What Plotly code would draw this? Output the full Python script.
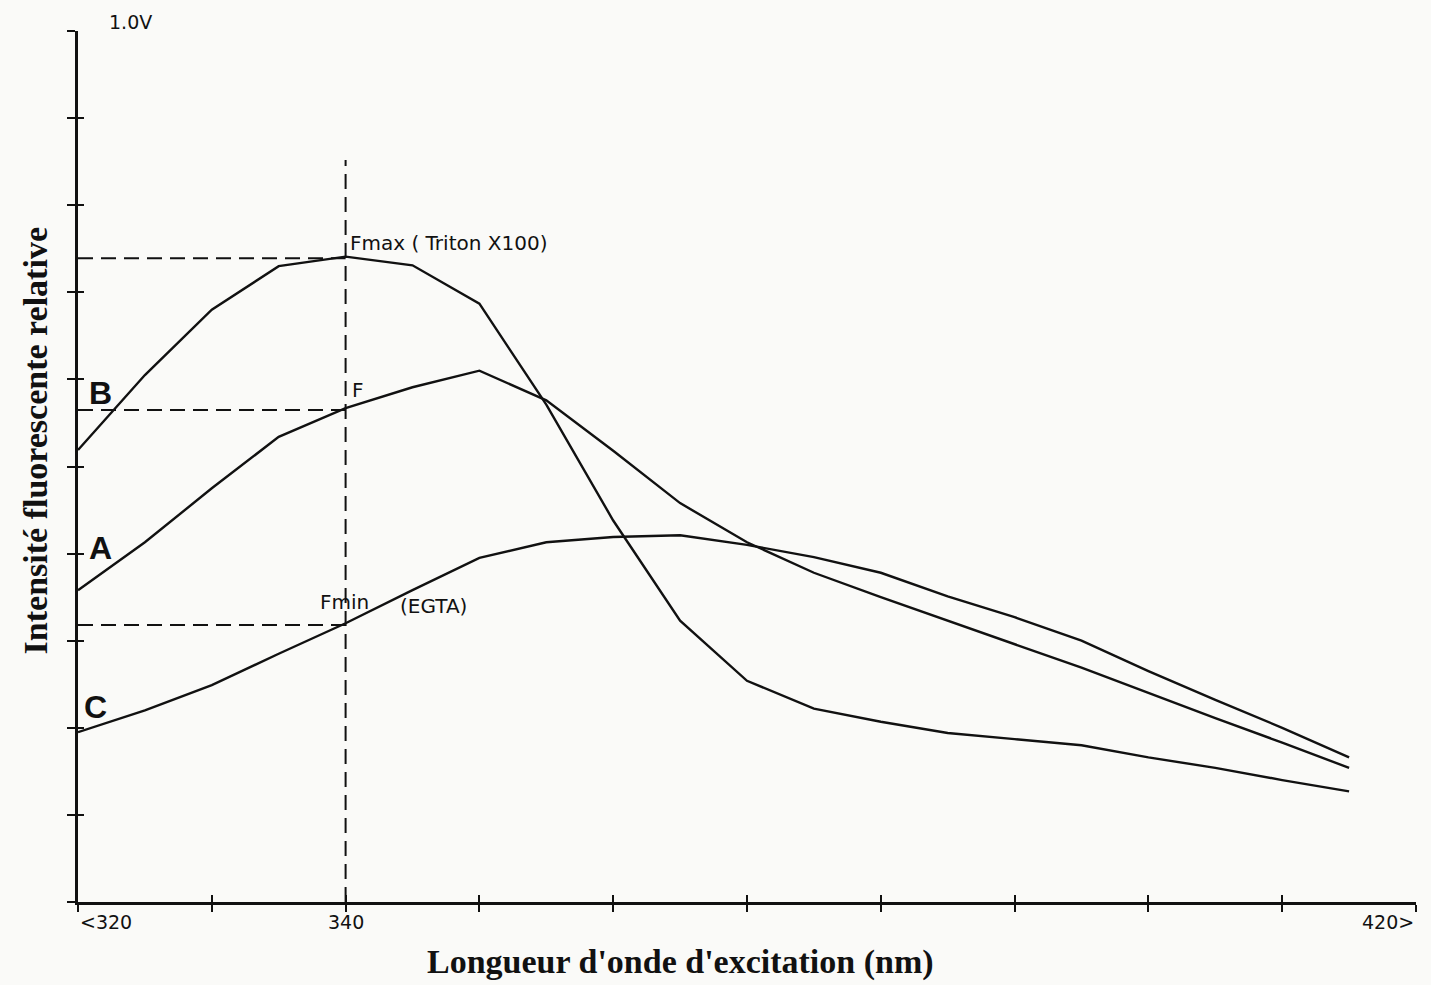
import plotly.graph_objects as go

# ---- data ----
wavelength = [320, 325, 330, 335, 340, 345, 350, 355, 360, 365,
              370, 375, 380, 385, 390, 395, 400, 405, 410, 415]
curve_B = [0.519, 0.605, 0.680, 0.730, 0.741, 0.731, 0.687, 0.571, 0.438, 0.323,
           0.254, 0.222, 0.207, 0.194, 0.187, 0.180, 0.166, 0.154, 0.140, 0.127]
curve_A = [0.358, 0.413, 0.475, 0.534, 0.567, 0.591, 0.610, 0.576, 0.518, 0.458,
           0.413, 0.378, 0.350, 0.323, 0.296, 0.269, 0.240, 0.211, 0.183, 0.154]
curve_C = [0.195, 0.220, 0.249, 0.285, 0.320, 0.358, 0.395, 0.413, 0.419, 0.421,
           0.410, 0.396, 0.378, 0.351, 0.327, 0.300, 0.265, 0.232, 0.200, 0.166]

ref_wavelength = 340
level_names = ["Fmax", "F", "Fmin"]
level_values = [0.739, 0.565, 0.318]
vline_top = 0.852

x_ticks = [320, 330, 340, 350, 360, 370, 380, 390, 400, 410, 420]
y_ticks = [0.0, 0.1, 0.2, 0.3, 0.4, 0.5, 0.6, 0.7, 0.8, 0.9, 1.0]
x_label_vals = [320, 340, 420]
x_label_text = ["<320", "340", "420>"]
y_unit_label = "1.0V"

x_title = "Longueur d'onde d'excitation (nm)"
y_title = "Intensité fluorescente relative"

INK = "#111111"
PAPER = "#fafaf8"

fig = go.Figure()

for ys in (curve_B, curve_A, curve_C):
    fig.add_trace(go.Scatter(x=wavelength, y=ys, mode="lines",
                             line=dict(color=INK, width=2.4), hoverinfo="skip",
                             showlegend=False))

dash = "15px,8px"
for v in level_values:
    fig.add_trace(go.Scatter(x=[x_ticks[0], ref_wavelength], y=[v, v], mode="lines",
                             line=dict(color=INK, width=2, dash=dash),
                             showlegend=False, hoverinfo="skip"))
fig.add_trace(go.Scatter(x=[ref_wavelength, ref_wavelength], y=[0, vline_top], mode="lines",
                         line=dict(color=INK, width=2, dash=dash),
                         showlegend=False, hoverinfo="skip"))

# invisible trace for overlay axes (crossing ticks)
fig.add_trace(go.Scatter(x=[x_ticks[0]], y=[0], xaxis="x2", yaxis="y2", mode="markers",
                         marker=dict(opacity=0), showlegend=False, hoverinfo="skip"))

tick_font = dict(family="DejaVu Sans", size=19, color=INK)
hand_font = dict(family="DejaVu Sans", size=20, color=INK)
letter_font = dict(family="Liberation Sans", size=32, color=INK)
title_font = dict(family="Liberation Serif", size=34, color=INK)

ann = []
anchors = ["left", "center", "right"]
for v, t, a in zip(x_label_vals, x_label_text, anchors):
    ann.append(dict(x=v, y=-0.023, xref="x", yref="paper", text=t, showarrow=False,
                    xanchor=a, yanchor="middle", font=tick_font))
ann.append(dict(x=322.2, y=1.010, xref="x", yref="paper", text=y_unit_label, showarrow=False,
                xanchor="left", yanchor="middle", font=tick_font))

for t, yy, xx in zip(["B", "A", "C"], [0.584, 0.406, 0.224], [321.7, 321.7, 321.3]):
    ann.append(dict(x=xx, y=yy, text="<b>%s</b>" % t, showarrow=False,
                    xanchor="center", yanchor="middle", font=letter_font))

ann.append(dict(x=340.2, y=0.757, text="Fmax ( Triton X100)", showarrow=False,
                xanchor="left", yanchor="middle", font=hand_font))
ann.append(dict(x=340.3, y=0.588, text="F", showarrow=False,
                xanchor="left", yanchor="middle", font=hand_font))
ann.append(dict(x=337.9, y=0.345, text="Fmin", showarrow=False,
                xanchor="left", yanchor="middle", font=hand_font))
ann.append(dict(x=343.9, y=0.340, text="(EGTA)", showarrow=False,
                xanchor="left", yanchor="middle", font=hand_font))

ann.append(dict(x=0.45, y=-0.069, xref="paper", yref="paper", text="<b>%s</b>" % x_title,
                showarrow=False, xanchor="center", yanchor="middle", font=title_font))
ann.append(dict(x=-0.032, y=0.529, xref="paper", yref="paper", text="<b>%s</b>" % y_title,
                showarrow=False, xanchor="center", yanchor="middle", textangle=-90,
                font=title_font))

axis_common = dict(showgrid=False, zeroline=False, fixedrange=True)

fig.update_layout(
    width=1431, height=985,
    margin=dict(l=78, r=15, t=31, b=83),
    paper_bgcolor=PAPER, plot_bgcolor=PAPER,
    annotations=ann,
    xaxis=dict(range=[320, 420], tickvals=x_ticks, showticklabels=False,
               ticks="outside", ticklen=7, tickwidth=2, tickcolor=INK,
               showline=True, linecolor=INK, linewidth=2.5, **axis_common),
    yaxis=dict(range=[0, 1.0], tickvals=y_ticks, showticklabels=False,
               ticks="outside", ticklen=8, tickwidth=2, tickcolor=INK,
               showline=True, linecolor=INK, linewidth=2.5, **axis_common),
    xaxis2=dict(range=[320, 420], tickvals=x_ticks, showticklabels=False, overlaying="x",
                ticks="inside", ticklen=7, tickwidth=2, tickcolor=INK, side="bottom",
                showline=False, anchor="y2", **axis_common),
    yaxis2=dict(range=[0, 1.0], tickvals=y_ticks, showticklabels=False, overlaying="y",
                ticks="inside", ticklen=6, tickwidth=2, tickcolor=INK, side="left",
                showline=False, anchor="x2", **axis_common),
)

fig.write_html("out.html")
